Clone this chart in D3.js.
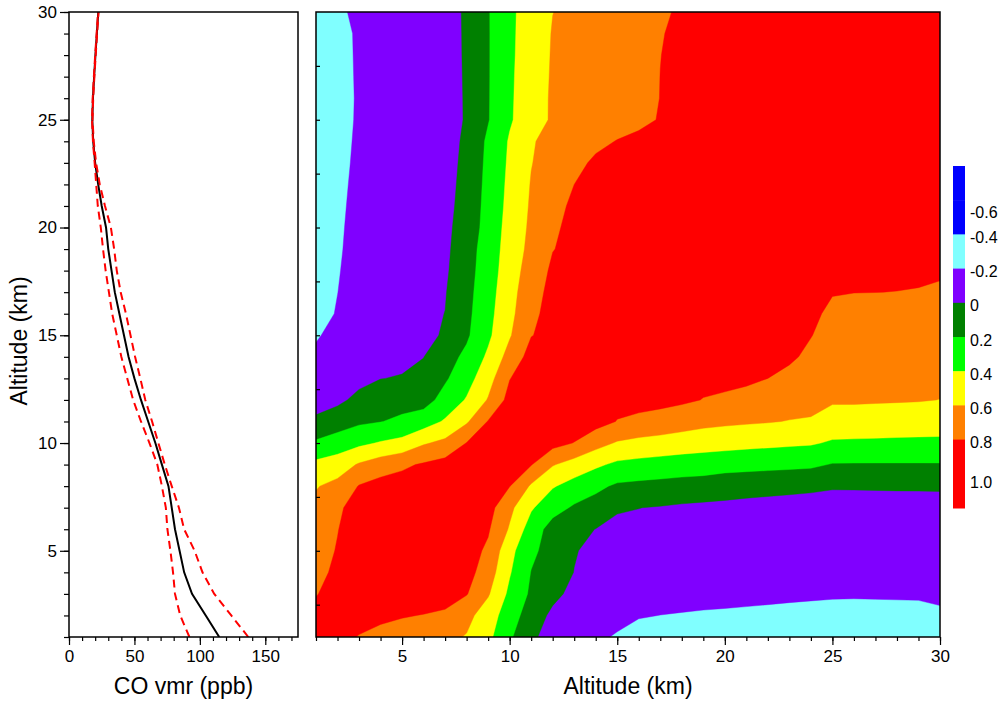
<!DOCTYPE html>
<html>
<head>
<meta charset="utf-8">
<script src="https://cdn.jsdelivr.net/npm/d3@7"></script>
<style>
  body { margin: 0; background: #fff; }
  text { font-family: "Liberation Sans", Arial, sans-serif; fill: #000; }
</style>
</head>
<body>
<svg id="chart" width="1000" height="706"></svg>
<script>
// ---------------- data ----------------
const altitudes = [1,2,3,4,5,6,7,8,9,10,11,12,13,14,15,16,17,18,19,20,21,22,23,24,25,26,27,28,29,30];

// CO volume mixing ratio profile (ppb) and its lower / upper bounds
const coMean = [114.8,104.5,94,88,84.5,81,78.5,76,71,66,60.5,55,50,45.5,42,38.5,35,32.5,30,28.3,25,22.3,20,18.5,17.8,18.3,19.2,20.2,21.3,22.4];
const coLow  = [92,85,81,79.5,77.5,75.2,74,71,67.5,61.5,55,49,44.5,40,36.5,33,30.5,28,26,24.3,22,20.8,19.6,18.3,17.6,18.1,19.0,20.0,21.1,22.2];
const coHigh = [137,124,111,102,96,88,84,78.5,73.2,68.3,63.5,58.3,54.5,50.5,47,43.5,39.5,36.5,34.5,32,27.5,23.5,20.7,18.9,18.0,18.5,19.4,20.4,21.5,22.6];

// Correlation between altitude levels, lower triangle:
// row k holds corr(altitudes[j], altitudes[k]) for j = 0..k
const corrLower = [
  [1],
  [0.9,1],
  [0.785,0.92,1],
  [0.75,0.836,0.96,1],
  [0.72,0.812,0.93,0.97,1],
  [0.685,0.794,0.9,0.93,0.97,1],
  [0.65,0.78,0.85,0.9,0.93,0.96,1],
  [0.5875,0.657,0.81,0.87,0.88,0.9,0.95,1],
  [0.4475,0.498,0.619,0.70,0.767,0.82,0.87,0.902,1],
  [0.2315,0.293,0.357,0.416,0.458,0.58,0.647,0.805,0.905,1],
  [0.021,0.103,0.168,0.194,0.24,0.307,0.422,0.575,0.81,0.932,1],
  [-0.047,-0.04,0.048,0.096,0.12,0.119,0.273,0.416,0.614,0.864,0.957,1],
  [-0.115,-0.08,-0.05,-0.003,0.01,0.05,0.175,0.325,0.52,0.794,0.913,0.971,1],
  [-0.1825,-0.12,-0.09,-0.04,-0.04,-0.003,0.123,0.242,0.434,0.673,0.87,0.942,0.977,1],
  [-0.209,-0.172,-0.136,-0.099,-0.062,-0.026,0.011,0.171,0.362,0.582,0.794,0.849,0.899,0.95,1],
  [-0.233,-0.194,-0.155,-0.116,-0.076,-0.037,0.002,0.152,0.341,0.545,0.76,0.86,0.89,0.93,0.96,1],
  [-0.240,-0.2008,-0.161,-0.122,-0.082,-0.042,-0.01,0.139,0.323,0.524,0.73,0.85,0.88,0.91,0.94,0.97,1],
  [-0.245,-0.2056,-0.166,-0.126,-0.087,-0.047,-0.027,0.125,0.304,0.502,0.69,0.83,0.85,0.87,0.9,0.93,0.96,1],
  [-0.25,-0.21,-0.17,-0.13,-0.09,-0.05,-0.04,0.115,0.29,0.485,0.653,0.795,0.84,0.86,0.885,0.91,0.94,0.97,1],
  [-0.253,-0.213,-0.173,-0.133,-0.093,-0.06,-0.041,0.08,0.276,0.47,0.635,0.77,0.85,0.87,0.89,0.91,0.93,0.95,0.975,1],
  [-0.256,-0.216,-0.177,-0.137,-0.097,-0.065,-0.055,0.07,0.264,0.454,0.622,0.73,0.84,0.86,0.875,0.89,0.91,0.93,0.95,0.975,1],
  [-0.26,-0.22,-0.18,-0.14,-0.1,-0.075,-0.065,0.06,0.254,0.4425,0.61,0.705,0.8,0.822,0.844,0.867,0.889,0.911,0.933,0.956,0.978,1],
  [-0.263,-0.2235,-0.184,-0.144,-0.104,-0.085,-0.075,0.05,0.244,0.43,0.594,0.674,0.75,0.83,0.845,0.86,0.88,0.9,0.92,0.94,0.96,0.98,1],
  [-0.266,-0.227,-0.187,-0.147,-0.11,-0.09,-0.075,0.034,0.234,0.418,0.58,0.67,0.702,0.76,0.806,0.828,0.85,0.87,0.89,0.914,0.935,0.957,0.978,1],
  [-0.269,-0.23,-0.19,-0.151,-0.111,-0.072,-0.049,0.01,0.189,0.379,0.509,0.625,0.651,0.691,0.731,0.772,0.807,0.831,0.855,0.88,0.904,0.928,0.952,0.976,1],
  [-0.271,-0.231,-0.191,-0.152,-0.112,-0.072,-0.046,0.01,0.187,0.375,0.504,0.625,0.646,0.685,0.725,0.764,0.8015,0.824,0.846,0.868,0.89,0.912,0.934,0.956,0.978,1],
  [-0.27,-0.23,-0.19,-0.151,-0.111,-0.071,-0.04,0.01,0.186,0.372,0.499,0.62,0.645,0.684,0.723,0.762,0.8006,0.821,0.841,0.861,0.881,0.901,0.92,0.94,0.96,0.98,1],
  [-0.269,-0.229,-0.189,-0.15,-0.11,-0.07,-0.039,0.011,0.186,0.367,0.495,0.615,0.643,0.682,0.721,0.76,0.799,0.818,0.836,0.854,0.872,0.891,0.909,0.927,0.945,0.964,0.982,1],
  [-0.267,-0.228,-0.188,-0.149,-0.109,-0.07,-0.04,0.012,0.186,0.364,0.491,0.61,0.641,0.68,0.719,0.757,0.796,0.815,0.832,0.849,0.866,0.882,0.899,0.916,0.933,0.95,0.966,0.983,1],
  [-0.255,-0.217,-0.18,-0.142,-0.104,-0.066,-0.03,0.01,0.187,0.361,0.488,0.598,0.637,0.673,0.71,0.747,0.79,0.809,0.825,0.841,0.857,0.873,0.888,0.904,0.92,0.936,0.952,0.968,0.984,1]
];

// contour levels (also the colour-bar labels) and fill colours
const corrLevels = [-0.6,-0.4,-0.2,0,0.2,0.4,0.6,0.8,1.0];
const levelLabels = ["-0.6","-0.4","-0.2","0","0.2","0.4","0.6","0.8","1.0"];
const belowColor = "#0000ff";
const levelColors = ["#0000ff","#80ffff","#8000ff","#008000","#00ff00","#ffff00","#ff8000","#ff0000","#ff0000"];

// axis ticks
const vmrMajorTicks = [0,50,100,150];
const vmrMinorTicks = [0,10,20,30,40,50,60,70,80,90,100,110,120,130,140,150,160,170];
const altMajorTicks = [5,10,15,20,25,30];
const altMinorTicks = altitudes;
const altInnerTicks = [2.5,5,7.5,10,12.5,15,17.5,20,22.5,25,27.5];

// ---------------- layout ----------------
const svg = d3.select("#chart");
const plotTop = 12, plotBottom = 637;
const left1 = 69, right1 = 298;   // profile panel
const left2 = 316, right2 = 940;  // correlation panel

const yAlt = d3.scaleLinear().domain([1, 30]).range([plotBottom, plotTop]);
const xVmr = d3.scaleLinear().domain([0, 175]).range([left1, right1]);
const xAlt = d3.scaleLinear().domain([1, 30]).range([left2, right2]);

// ---------------- correlation contours ----------------
const n = altitudes.length;
const grid = new Array(n * n);
for (let i = 0; i < n; i++) {
  for (let j = 0; j < n; j++) {
    grid[j * n + i] = i >= j ? corrLower[i][j] : corrLower[j][i];
  }
}
const contours = d3.contours().size([n, n]).thresholds(corrLevels)(grid);

// grid cell centre k+0.5 sits at altitudes[k]
const proj = d3.geoTransform({
  point: function(x, y) {
    this.stream.point(xAlt(altitudes[0] + x - 0.5), yAlt(altitudes[0] + y - 0.5));
  }
});
const cpath = d3.geoPath(proj);

svg.append("clipPath").attr("id", "clipCorr")
  .append("rect").attr("x", left2).attr("y", plotTop)
  .attr("width", right2 - left2).attr("height", plotBottom - plotTop);

const gc = svg.append("g").attr("clip-path", "url(#clipCorr)");
gc.append("rect").attr("x", left2).attr("y", plotTop)
  .attr("width", right2 - left2).attr("height", plotBottom - plotTop)
  .attr("fill", belowColor);
gc.selectAll("path.band").data(contours).join("path")
  .attr("class", "band")
  .attr("d", cpath)
  .attr("fill", (d, i) => levelColors[i])
  .attr("stroke", (d, i) => levelColors[i])
  .attr("stroke-width", 0.4);

// ---------------- CO profile ----------------
const line = (vals) => d3.line()
  .x((d, i) => xVmr(vals[i]))
  .y((d, i) => yAlt(altitudes[i]))(altitudes);

svg.append("clipPath").attr("id", "clipProf")
  .append("rect").attr("x", left1).attr("y", plotTop)
  .attr("width", right1 - left1).attr("height", plotBottom - plotTop);
const gp = svg.append("g").attr("clip-path", "url(#clipProf)");
gp.append("path").attr("d", line(coMean))
  .attr("fill", "none").attr("stroke", "#000").attr("stroke-width", 2);
gp.append("path").attr("d", line(coLow))
  .attr("fill", "none").attr("stroke", "#ff0000").attr("stroke-width", 2)
  .attr("stroke-dasharray", "8,5");
gp.append("path").attr("d", line(coHigh))
  .attr("fill", "none").attr("stroke", "#ff0000").attr("stroke-width", 2)
  .attr("stroke-dasharray", "8,5");

// ---------------- axes ----------------
function styleAxis(g) {
  g.select(".domain").remove();
  g.selectAll(".tick line").attr("stroke", "#000").attr("stroke-width", 1.2);
  g.selectAll(".tick text").style("font-size", "17px").attr("fill", "#000");
}

// profile: altitude axis (left)
svg.append("g").attr("transform", `translate(${left1},0)`)
  .call(d3.axisLeft(yAlt).tickValues(altMinorTicks).tickSize(5).tickFormat(""))
  .call(styleAxis);
svg.append("g").attr("transform", `translate(${left1},0)`)
  .call(d3.axisLeft(yAlt).tickValues(altMajorTicks).tickSize(9).tickPadding(3).tickFormat(d3.format("d")))
  .call(styleAxis);

// profile: vmr axis (bottom)
svg.append("g").attr("transform", `translate(0,${plotBottom})`)
  .call(d3.axisBottom(xVmr).tickValues(vmrMinorTicks).tickSize(4).tickFormat(""))
  .call(styleAxis);
svg.append("g").attr("transform", `translate(0,${plotBottom})`)
  .call(d3.axisBottom(xVmr).tickValues(vmrMajorTicks).tickSize(8).tickPadding(5).tickFormat(d3.format("d")))
  .call(styleAxis);

// correlation: altitude axis (bottom)
svg.append("g").attr("transform", `translate(0,${plotBottom})`)
  .call(d3.axisBottom(xAlt).tickValues(altMinorTicks).tickSize(4).tickFormat(""))
  .call(styleAxis);
svg.append("g").attr("transform", `translate(0,${plotBottom})`)
  .call(d3.axisBottom(xAlt).tickValues(altMajorTicks).tickSize(8).tickPadding(5).tickFormat(d3.format("d")))
  .call(styleAxis);

// correlation: short inner ticks on the left edge
svg.append("g").attr("transform", `translate(${left2},0)`)
  .call(d3.axisRight(yAlt).tickValues(altInnerTicks).tickSize(4).tickFormat(""))
  .call(styleAxis);

// panel frames
[[left1, right1], [left2, right2]].forEach(([a, b]) => {
  svg.append("rect").attr("x", a).attr("y", plotTop)
    .attr("width", b - a).attr("height", plotBottom - plotTop)
    .attr("fill", "none").attr("stroke", "#000").attr("stroke-width", 1.5);
});

// axis titles
svg.append("text").attr("x", (left1 + right1) / 2).attr("y", 694)
  .attr("text-anchor", "middle").style("font-size", "23px").text("CO vmr (ppb)");
svg.append("text").attr("x", (left2 + right2) / 2).attr("y", 694)
  .attr("text-anchor", "middle").style("font-size", "23px").text("Altitude (km)");
svg.append("text").attr("transform", "translate(27,341) rotate(-90)")
  .attr("text-anchor", "middle").style("font-size", "23px").text("Altitude (km)");

// ---------------- colour bar ----------------
const cbX = 953, cbW = 12, cbTop = 166, cbBottom = 508;
const cbColors = [belowColor].concat(levelColors);
const cbBand = d3.scaleBand().domain(d3.range(cbColors.length)).range([cbTop, cbBottom]).paddingInner(0);
svg.append("g").selectAll("rect").data(cbColors).join("rect")
  .attr("x", cbX).attr("y", (d, i) => cbBand(i))
  .attr("width", cbW).attr("height", cbBand.bandwidth() + 0.5)
  .attr("fill", d => d);
svg.append("g").selectAll("text").data(corrLevels).join("text")
  .attr("x", 970)
  .attr("y", (d, i) => cbBand(i + 1) + (i === 0 ? 12 : i === corrLevels.length - 1 ? 9 : 3))
  .attr("dy", "0.35em")
  .style("font-size", "16px")
  .text((d, i) => levelLabels[i]);
</script>
</body>
</html>
